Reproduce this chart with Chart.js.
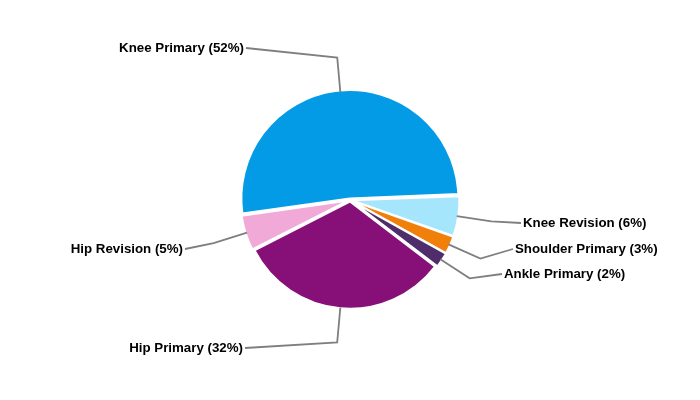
<!DOCTYPE html>
<html>
<head>
<meta charset="utf-8">
<script src="https://cdn.jsdelivr.net/npm/chart.js@4.4.0/dist/chart.umd.min.js"></script>
<style>
  html, body { margin: 0; padding: 0; background: #fff; }
  #wrap { width: 700px; height: 400px; }
</style>
</head>
<body>
<div id="wrap"><canvas id="myChart"></canvas></div>
<script>
const categories = ['Knee Primary', 'Knee Revision', 'Shoulder Primary', 'Ankle Primary', 'Hip Primary', 'Hip Revision'];
const shares = [51.6, 6.0, 2.7, 2.3, 32.1, 5.3];
const sliceColors = ['#039be5', '#a6e6fc', '#f0800a', '#4f2c6b', '#870f78', '#f1aad8'];

// where each label sits, relative to the pie centre (line end / text edge)
const labelAt = [[-106, -152], [173, 23], [165, 49], [154, 74], [-107, 148], [-167, 49]];

const leaderLabels = {
  id: 'leaderLabels',
  afterDatasetsDraw(chart) {
    const ctx = chart.ctx;
    const meta = chart.getDatasetMeta(0);
    const total = shares.reduce((a, b) => a + b, 0);
    ctx.save();
    ctx.font = 'bold 13.3px "Liberation Sans", Arial, sans-serif';
    ctx.textBaseline = 'middle';
    ctx.strokeStyle = '#7f7f7f';
    ctx.lineWidth = 1.8;
    ctx.fillStyle = '#000';
    meta.data.forEach((arc, i) => {
      const mid = (arc.startAngle + arc.endAngle) / 2;
      const r = arc.outerRadius + 1;
      const ax = arc.x + Math.cos(mid) * r;
      const ay = arc.y + Math.sin(mid) * r;
      const ex = arc.x + Math.cos(mid) * (r + 35);
      const ey = arc.y + Math.sin(mid) * (r + 35);
      const right = labelAt[i][0] > 0;
      const tx = arc.x + labelAt[i][0];
      const ty = arc.y + labelAt[i][1];
      ctx.beginPath();
      ctx.moveTo(ax, ay);
      ctx.lineTo(ex, ey);
      ctx.lineTo(right ? tx - 2 : tx + 2, ty);
      ctx.stroke();
      const pct = Math.round(shares[i] / total * 100);
      ctx.textAlign = right ? 'left' : 'right';
      ctx.fillText(categories[i] + ' (' + pct + '%)', tx, ty + 0.5);
    });
    ctx.restore();
  }
};

new Chart(document.getElementById('myChart'), {
  type: 'pie',
  data: {
    labels: categories,
    datasets: [{
      data: shares,
      backgroundColor: sliceColors,
      borderColor: '#ffffff',
      borderWidth: 2,
      offset: 6,
      hoverOffset: 6,
      radius: 107
    }]
  },
  options: {
    responsive: true,
    maintainAspectRatio: false,
    animation: false,
    rotation: 262,
    layout: { padding: 0 },
    plugins: {
      legend: { display: false },
      tooltip: { enabled: false }
    }
  },
  plugins: [leaderLabels]
});
</script>
</body>
</html>
